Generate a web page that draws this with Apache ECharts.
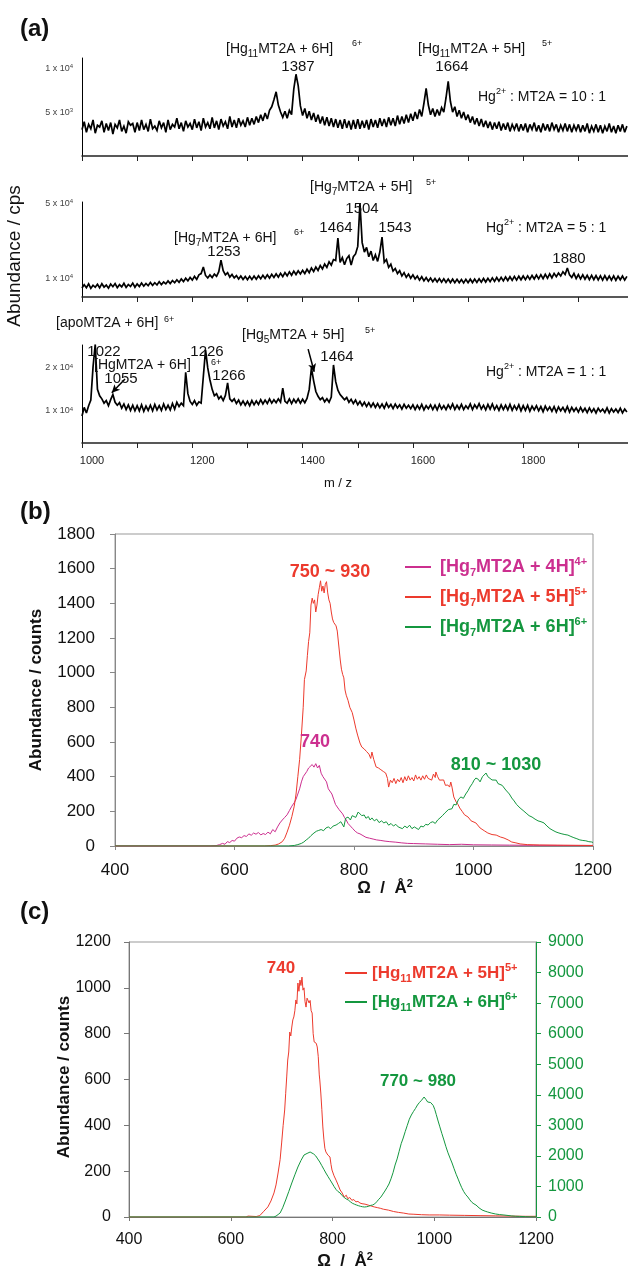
<!DOCTYPE html>
<html><head><meta charset="utf-8">
<script src="https://cdn.jsdelivr.net/npm/echarts@6/dist/echarts.min.js"></script>
<style>html,body{margin:0;padding:0;background:#fff}#c{width:628px;height:1270px}</style>
</head><body><div id="c"></div>
<script>
// ---------- DATA ----------
// Panel (a): mass spectra sampled every 4 m/z from 1000; intensities in units of 100 cps
const mzStart = 1000, mzStep = 4;
const int10to1 = [
30,39,27,36,31,41,26,35,33,40,27,37,29,38,25,36,32,41,28,34,26,39,35,37,27,
38,29,41,30,36,28,42,31,34,29,40,32,38,27,41,30,36,33,43,31,38,28,40,33,37,
30,42,32,39,29,43,33,38,31,44,32,40,30,42,34,39,31,45,33,41,32,43,35,40,33,
44,35,43,36,45,38,47,40,49,42,52,56,64,73,58,50,44,51,43,52,47,76,93,80,57,
46,54,43,51,41,49,39,47,37,45,35,44,34,43,33,42,32,41,31,42,32,40,30,41,31,
42,31,40,32,41,30,42,33,41,32,43,34,42,33,44,35,43,34,46,36,45,37,47,38,48,
40,50,42,53,45,60,77,58,47,54,45,53,46,55,50,66,85,62,50,56,45,52,43,50,41,
47,38,45,36,43,34,42,33,40,32,39,30,38,31,39,29,37,30,38,28,36,30,37,28,36,
29,37,27,36,30,38,28,35,27,37,29,36,28,38,30,36,27,35,29,37,28,36,27,35,29,
36,27,35,28,37,26,34,28,36,27,35,26,34,28,37,27,34,26,35,28,36,27,34];
const int5to1 = [
48,66,50,70,46,63,52,68,49,71,53,64,47,69,55,72,50,66,54,73,51,67,56,74,52,
70,56,75,58,72,60,78,62,76,64,82,66,80,70,86,72,88,76,92,78,96,82,100,86,104,
90,110,94,118,125,160,115,102,118,104,122,110,135,197,140,118,130,106,120,102,114,96,112,94,110,
92,110,93,112,95,113,97,116,99,118,101,121,104,124,106,126,109,130,113,134,116,138,120,140,123,
142,125,148,130,155,136,160,142,168,150,176,158,188,170,200,195,315,185,210,172,205,220,170,215,230,
270,500,290,240,265,215,245,195,225,190,240,320,185,200,158,175,138,152,125,140,112,130,105,122,100,
118,96,112,90,108,86,104,84,101,82,99,80,98,79,97,78,96,77,95,76,94,76,93,75,94,
76,95,77,96,78,97,79,99,80,100,82,102,83,104,85,105,86,107,88,108,89,110,90,111,92,
112,93,113,94,115,96,117,97,119,98,121,100,124,102,126,108,128,112,135,120,155,118,104,126,98,
120,96,118,95,116,93,115,92,114,91,113,90,114,91,112,90,113,89,111,92,112,90,110];
const int1to1 = [
88,108,95,112,125,202,255,150,135,128,118,124,112,126,138,120,113,119,106,116,103,114,101,113,100,
112,100,114,99,111,101,113,100,115,102,112,101,116,103,113,102,117,104,120,110,118,112,190,140,122,
115,124,113,121,118,180,242,200,172,150,135,140,128,134,124,136,165,128,122,128,117,125,114,123,113,
122,112,124,114,123,115,126,116,125,117,128,118,126,119,128,120,153,122,118,128,117,127,119,128,118,
127,119,129,150,200,170,145,134,126,131,121,128,120,132,207,168,148,138,132,126,131,120,127,117,125,
114,122,112,120,110,119,109,118,108,117,107,116,106,118,108,115,105,116,107,114,104,115,106,113,105,
114,103,113,104,115,102,112,105,114,103,113,102,115,104,112,103,114,105,116,103,113,104,115,103,112,
105,116,103,114,106,117,104,113,102,115,104,116,103,112,101,114,103,113,102,115,101,112,103,114,100,
112,101,113,99,111,102,112,100,110,98,111,101,109,99,110,97,109,100,108,98,110,97,108,99,107,
97,108,98,106,96,107,97,105,95,106,98,104,96,107,95,105,97,104,96,106,95,104,97];
// arrows in the 1:1 spectrum [from, to] as [m/z, 100 cps]
const arrows1to1 = [[[1078,174],[1054,142]],[[1410,244],[1421,191]]];

// Panel (b): arrival-time distributions [Ω / Å², counts]
const hg7_4H = [[400,0],[560,0],[569,2],[575,8],[580,15],[584,10],[588,25],[592,20],[596,32],[600,28],[604,45],[608,52],[612,48],[616,60],[620,55],[624,70],[628,62],[632,75],[636,68],[640,78],[644,64],[648,72],[652,66],[656,80],[660,70],[664,95],[668,82],[672,110],[676,133],[680,150],[684,165],[688,180],[692,205],[696,230],[700,250],[703,270],[706,300],[709,330],[712,370],[715,400],[718,410],[721,430],[724,450],[727,440],[730,470],[733,455],[736,475],[739,450],[742,465],[745,420],[748,400],[751,390],[754,370],[757,330],[760,325],[763,300],[766,270],[769,240],[772,225],[775,210],[778,200],[781,185],[784,165],[787,150],[790,130],[794,115],[798,100],[802,85],[806,75],[810,70],[815,60],[820,50],[826,45],[832,40],[838,35],[845,32],[852,28],[860,25],[870,22],[880,18],[890,15],[900,14],[920,12],[940,10],[960,8],[980,10],[1000,7],[1030,6],[1060,5],[1100,4],[1150,3],[1200,3]];
const hg7_5H = [[400,0],[650,0],[660,2],[668,5],[674,12],[680,25],[684,45],[688,80],[692,120],[696,170],[700,230],[703,300],[706,400],[709,500],[712,640],[715,800],[717,960],[720,1010],[722,1100],[724,1180],[726,1230],[728,1390],[730,1430],[732,1400],[734,1420],[736,1350],[738,1390],[740,1450],[742,1490],[744,1530],[746,1470],[748,1500],[750,1460],[752,1510],[754,1525],[756,1460],[758,1420],[760,1400],[762,1350],[764,1310],[766,1290],[768,1300],[770,1270],[772,1240],[774,1235],[775,1245],[777,1073],[779,1020],[781,990],[783,970],[785,900],[787,870],[790,840],[793,800],[797,770],[800,727],[803,680],[806,640],[810,594],[813,571],[817,560],[821,545],[825,530],[828,505],[830,542],[833,500],[837,456],[841,450],[845,440],[849,430],[853,421],[856,390],[858,340],[861,380],[864,365],[867,390],[870,360],[873,385],[876,370],[879,395],[882,365],[885,400],[888,375],[891,405],[894,380],[897,395],[900,375],[903,410],[906,385],[909,400],[912,380],[915,405],[918,385],[921,410],[924,390],[927,400],[930,380],[933,415],[936,395],[937,427],[940,400],[943,380],[946,390],[950,381],[953,350],[957,352],[960,340],[962,369],[964,340],[967,283],[971,254],[974,240],[977,219],[981,200],[985,180],[991,167],[996,145],[1004,133],[1011,104],[1018,88],[1024,75],[1031,66],[1038,63],[1045,52],[1051,46],[1058,35],[1064,23],[1071,18],[1078,12],[1090,8],[1110,6],[1140,5],[1170,4],[1200,3]];
const hg7_6H = [[400,0],[690,0],[700,3],[706,8],[712,15],[716,23],[720,35],[724,45],[728,60],[733,75],[737,85],[741,90],[745,95],[749,88],[753,104],[757,110],[761,100],[765,115],[770,121],[774,130],[778,140],[780,150],[783,110],[786,160],[790,167],[794,150],[797,175],[800,179],[803,165],[807,196],[810,185],[813,175],[817,179],[820,160],[824,170],[827,150],[830,162],[834,145],[838,155],[842,135],[846,145],[850,133],[854,140],[858,120],[862,130],[866,115],[870,125],[874,110],[877,118],[881,100],[885,115],[889,105],[893,120],[897,100],[901,110],[904,104],[908,95],[912,115],[916,110],[920,125],[924,121],[928,135],[932,140],[936,130],[940,150],[944,162],[948,175],[952,190],[955,200],[958,210],[961,220],[964,215],[967,240],[971,237],[975,270],[979,283],[983,275],[987,300],[991,320],[994,340],[998,360],[1001,380],[1004,392],[1008,385],[1011,370],[1015,400],[1018,395],[1021,421],[1024,400],[1027,390],[1031,381],[1034,370],[1038,380],[1041,360],[1044,369],[1048,350],[1051,340],[1054,323],[1057,330],[1060,300],[1064,277],[1068,260],[1072,240],[1078,219],[1083,205],[1088,190],[1093,175],[1098,167],[1103,155],[1108,145],[1113,140],[1118,133],[1123,115],[1128,100],[1133,90],[1138,81],[1143,75],[1148,70],[1153,66],[1158,63],[1163,55],[1168,48],[1173,42],[1178,35],[1183,32],[1188,30],[1193,25],[1198,23],[1200,20]];

// Panel (c)
const hg11_5H = [[400,0],[540,0],[543,8],[546,0],[630,0],[634,4],[637,0],[650,2],[657,6],[665,25],[673,44],[679,70],[685,105],[689,140],[693,192],[697,250],[700,323],[703,400],[706,467],[708,540],[710,611],[712,685],[714,720],[716,807],[718,790],[720,829],[722,860],[724,873],[726,900],[728,947],[730,930],[732,1021],[734,985],[736,1034],[738,1010],[740,1047],[742,990],[744,1000],[746,940],[748,916],[750,955],[752,960],[754,934],[756,945],[758,900],[760,890],[762,800],[764,764],[766,765],[768,758],[770,742],[772,700],[774,620],[775,598],[777,541],[779,470],[781,393],[783,340],[785,300],[787,284],[789,290],[791,270],[795,262],[797,230],[799,205],[803,180],[807,161],[811,140],[815,118],[819,105],[823,87],[827,95],[830,80],[834,85],[838,73],[842,76],[846,66],[850,68],[854,61],[858,58],[864,56],[870,52],[876,48],[882,44],[888,41],[894,38],[900,34],[910,30],[920,24],[930,20],[940,17],[950,13],[960,12],[975,10],[990,9],[1010,9],[1030,8],[1060,7],[1090,6],[1120,5],[1150,4],[1180,3],[1200,3]];
const hg11_6H = [[400,0],[685,0],[689,30],[693,80],[697,131],[702,300],[708,556],[714,830],[720,1113],[726,1380],[732,1636],[738,1850],[744,2029],[750,2080],[753,2100],[756,2127],[759,2100],[763,2062],[767,2000],[771,1900],[775,1800],[779,1680],[783,1560],[787,1440],[791,1330],[795,1220],[799,1113],[803,1000],[807,900],[811,830],[815,785],[819,700],[823,640],[827,590],[831,556],[835,500],[839,450],[843,420],[847,393],[851,370],[855,350],[859,335],[863,327],[867,335],[871,350],[875,380],[879,393],[883,430],[887,500],[891,580],[895,650],[899,750],[903,850],[907,960],[911,1080],[915,1250],[919,1450],[923,1700],[927,1900],[931,2150],[935,2400],[939,2585],[943,2800],[947,3000],[951,3200],[955,3338],[959,3450],[963,3550],[967,3665],[971,3750],[975,3820],[978,3870],[980,3927],[982,3880],[984,3840],[987,3764],[990,3780],[993,3745],[995,3730],[998,3650],[1001,3520],[1004,3350],[1007,3175],[1011,2950],[1015,2730],[1019,2520],[1023,2300],[1027,2100],[1031,1930],[1035,1767],[1039,1580],[1043,1400],[1047,1240],[1050,1113],[1054,960],[1058,830],[1062,730],[1066,655],[1070,560],[1074,480],[1078,430],[1082,393],[1088,300],[1094,230],[1100,190],[1105,164],[1112,130],[1120,100],[1128,80],[1137,65],[1145,50],[1152,35],[1160,25],[1168,20],[1180,10],[1190,5],[1200,2]];

// tick labels of panel (a) y axes (value in 100 cps -> label)
const yLabTop = {50: '5 x 10{s|3}', 100: '1 x 10{s|4}'};
const yLabMid = {100: '1 x 10{s|4}', 500: '5 x 10{s|4}'};
const yLabBot = {100: '1 x 10{s|4}', 200: '2 x 10{s|4}'};

// ---------- STYLE ----------
const FONT = '"Liberation Sans", Arial, Helvetica, sans-serif';
const MAG = '#cc2f8f', RED = '#ec3a2d', GRN = '#14973f';
const chart = echarts.init(document.getElementById('c'), null, {renderer: 'canvas'});
const toPairs = arr => arr.map((v, i) => [mzStart + i * mzStep, v]);

const subRich = {
  sb: {fontSize: 10, lineHeight: 12, verticalAlign: 'bottom'},
  sp: {fontSize: 9, lineHeight: 10, verticalAlign: 'top'}
};
function T(x, y, text, size, o) {
  o = o || {};
  const al = o.align || 'left';
  return {type: 'text', x: x, y: y, rotation: o.rot || 0, silent: true, z: 50,
    style: {x: 0, y: 0, text: text, fontSize: size, fontFamily: FONT,
      fontWeight: o.bold ? 'bold' : 'normal', fill: o.color || '#111',
      align: al, textAlign: al, verticalAlign: 'middle', textVerticalAlign: 'middle',
      lineHeight: o.lh || 20, rich: o.rich || subRich}};
}

function aY(gi, min, max, interval, labs) {
  return {gridIndex: gi, type: 'value', min: min, max: max, interval: interval,
    axisLine: {show: true, lineStyle: {color: '#000', width: 1}}, axisTick: {show: false}, splitLine: {show: false},
    axisLabel: {fontSize: 9, color: '#444', fontFamily: FONT, margin: 9, formatter: v => labs[v] || '',
      rich: {s: {fontSize: 6, lineHeight: 8, verticalAlign: 'top', color: '#444'}}}};
}
function aX(gi, labels) {
  return {gridIndex: gi, type: 'value', min: 1000, max: 1990, interval: 100,
    axisLine: {show: true, onZero: false, lineStyle: {color: '#222', width: 1.5}},
    axisTick: {show: true, inside: false, length: 5, lineStyle: {color: '#222'}},
    splitLine: {show: false},
    axisLabel: {show: labels, fontSize: 11, color: '#222', fontFamily: FONT, margin: 12, padding: [0, 0, 0, 20],
      formatter: v => (v % 200 === 0 && v <= 1800) ? String(v) : ''}};
}
const tickLab = (sz, col, m) => ({fontSize: sz, color: col, fontFamily: FONT, margin: m, formatter: v => String(v)});

const leg = (k, c, sz) => ({
  [k]: {color: c, fontSize: sz, fontWeight: 'bold', fontFamily: FONT, lineHeight: 22},
  [k + 's']: {color: c, fontSize: 11, fontWeight: 'bold', fontFamily: FONT, lineHeight: 12, verticalAlign: 'bottom'},
  [k + 'p']: {color: c, fontSize: 11, fontWeight: 'bold', fontFamily: FONT, lineHeight: 12, verticalAlign: 'top'}
});
const LEGB = {
  'Hg7 4H': '{m|[Hg}{ms|7}{m|MT2A + 4H]}{mp|4+}',
  'Hg7 5H': '{r|[Hg}{rs|7}{r|MT2A + 5H]}{rp|5+}',
  'Hg7 6H': '{g|[Hg}{gs|7}{g|MT2A + 6H]}{gp|6+}',
  'Hg11 5H': '{r|[Hg}{rs|11}{r|MT2A + 5H]}{rp|5+}',
  'Hg11 6H': '{g|[Hg}{gs|11}{g|MT2A + 6H]}{gp|6+}'
};

const lineS = (name, data, xi, yi, color, extra) => Object.assign({
  name: name, type: 'line', data: data, xAxisIndex: xi, yAxisIndex: yi, showSymbol: false, symbol: 'none',
  color: color, lineStyle: {color: color, width: 1}, animation: false, silent: true, clip: true, sampling: null
}, extra || {});
const specStyle = {lineStyle: {color: '#000', width: 1.7, join: 'miter', miterLimit: 3}};

const option = {
  animation: false,
  backgroundColor: '#fff',
  grid: [
    {left: 82, width: 546, top: 58, height: 98, containLabel: false, outerBoundsMode: 'none'},
    {left: 82, width: 546, top: 202, height: 95, containLabel: false, outerBoundsMode: 'none'},
    {left: 82, width: 546, top: 345, height: 98, containLabel: false, outerBoundsMode: 'none'},
    {left: 115, width: 478, top: 534, height: 312, containLabel: false, outerBoundsMode: 'none', show: true, borderColor: '#999', borderWidth: 1},
    {left: 129, width: 407, top: 942, height: 275, containLabel: false, outerBoundsMode: 'none', show: true, borderColor: '#999', borderWidth: 1}
  ],
  xAxis: [
    aX(0, false), aX(1, false), aX(2, true),
    {gridIndex: 3, type: 'value', min: 400, max: 1200, interval: 200, splitLine: {show: false},
      axisLine: {onZero: false, lineStyle: {color: '#888'}}, axisTick: {length: 4, lineStyle: {color: '#888'}},
      axisLabel: tickLab(17, '#111', 16)},
    {gridIndex: 4, type: 'value', min: 400, max: 1200, interval: 200, splitLine: {show: false},
      axisLine: {onZero: false, lineStyle: {color: '#777'}}, axisTick: {length: 4, lineStyle: {color: '#777'}},
      axisLabel: tickLab(16, '#111', 15)}
  ],
  yAxis: [
    aY(0, 0, 111.5, 50, yLabTop), aY(1, 0, 507, 100, yLabMid), aY(2, 25, 253.5, 25, yLabBot),
    {gridIndex: 3, type: 'value', min: 0, max: 1800, interval: 200, splitLine: {show: false},
      axisLine: {show: true, lineStyle: {color: '#888'}}, axisTick: {show: true, length: 5, lineStyle: {color: '#888'}},
      axisLabel: tickLab(17, '#111', 20)},
    {gridIndex: 4, type: 'value', min: 0, max: 1200, interval: 200, splitLine: {show: false}, position: 'left',
      axisLine: {show: true, lineStyle: {color: '#777'}}, axisTick: {show: true, length: 5, lineStyle: {color: '#777'}},
      axisLabel: tickLab(16, '#111', 18)},
    {gridIndex: 4, type: 'value', min: 0, max: 9000, interval: 1000, splitLine: {show: false}, position: 'right',
      axisLine: {show: true, lineStyle: {color: GRN}}, axisTick: {show: true, length: 5, lineStyle: {color: GRN}},
      axisLabel: tickLab(16, GRN, 12)}
  ],
  legend: [
    {data: ['Hg7 4H', 'Hg7 5H', 'Hg7 6H'], orient: 'vertical', left: 400, top: 551, itemWidth: 26, itemHeight: 2, itemGap: 8,
      icon: 'rect', selectedMode: false, formatter: n => LEGB[n],
      textStyle: {fontSize: 18, fontWeight: 'bold', fontFamily: FONT, padding: [0, 0, 0, 4],
        rich: Object.assign({}, leg('m', MAG, 18), leg('r', RED, 18), leg('g', GRN, 18))}},
    {data: ['Hg11 5H', 'Hg11 6H'], orient: 'vertical', left: 340, top: 957, itemWidth: 22, itemHeight: 2, itemGap: 7,
      icon: 'rect', selectedMode: false, formatter: n => LEGB[n],
      textStyle: {fontSize: 17, fontWeight: 'bold', fontFamily: FONT,
        rich: Object.assign({}, leg('r', RED, 17), leg('g', GRN, 17))}}
  ],
  series: [
    lineS('10:1', toPairs(int10to1), 0, 0, '#000', specStyle),
    lineS('5:1', toPairs(int5to1), 1, 1, '#000', specStyle),
    lineS('1:1', toPairs(int1to1), 2, 2, '#000', Object.assign({}, specStyle, {
      markLine: {silent: true, symbol: ['none', 'arrow'], symbolSize: [6, 8], animation: false,
        lineStyle: {color: '#000', width: 1.5, type: 'solid'}, label: {show: false},
        data: arrows1to1.map(a => [{coord: a[0]}, {coord: a[1]}])}})),
    lineS('Hg7 4H', hg7_4H, 3, 3, MAG),
    lineS('Hg7 5H', hg7_5H, 3, 3, RED),
    lineS('Hg7 6H', hg7_6H, 3, 3, GRN),
    lineS('Hg11 5H', hg11_5H, 4, 4, RED),
    lineS('Hg11 6H', hg11_6H, 4, 5, GRN)
  ],
  graphic: [
    T(20, 29, '(a)', 24, {bold: true}),
    T(20, 512, '(b)', 24, {bold: true}),
    T(20, 912, '(c)', 24, {bold: true}),
    // panel (a) annotations
    T(226, 49, '[Hg{sb|11}MT2A + 6H]', 14), T(352, 44, '6+', 9),
    T(298, 67, '1387', 15, {align: 'center'}),
    T(418, 49, '[Hg{sb|11}MT2A + 5H]', 14), T(542, 44, '5+', 9),
    T(452, 67, '1664', 15, {align: 'center'}),
    T(478, 97, 'Hg{sp|2+} : MT2A = 10 : 1', 14),
    T(310, 187, '[Hg{sb|7}MT2A + 5H]', 14), T(426, 183, '5+', 9),
    T(362, 209, '1504', 15, {align: 'center'}),
    T(336, 228, '1464', 15, {align: 'center'}),
    T(395, 228, '1543', 15, {align: 'center'}),
    T(174, 238, '[Hg{sb|7}MT2A + 6H]', 14), T(294, 233, '6+', 9),
    T(224, 252, '1253', 15, {align: 'center'}),
    T(486, 228, 'Hg{sp|2+} : MT2A = 5 : 1', 14),
    T(569, 259, '1880', 15, {align: 'center'}),
    T(56, 323, '[apoMT2A + 6H]', 14), T(164, 320, '6+', 9),
    T(104, 352, '1022', 15, {align: 'center'}),
    T(94, 365, '[HgMT2A + 6H]', 14),
    T(121, 379, '1055', 15, {align: 'center'}),
    T(207, 352, '1226', 15, {align: 'center'}),
    T(211, 363, '6+', 9),
    T(229, 376, '1266', 15, {align: 'center'}),
    T(242, 335, '[Hg{sb|5}MT2A + 5H]', 14), T(365, 331, '5+', 9),
    T(337, 357, '1464', 15, {align: 'center'}),
    T(486, 372, 'Hg{sp|2+} : MT2A = 1 : 1', 14),
    T(338, 483, 'm / z', 13, {align: 'center'}),
    T(15, 256, 'Abundance / cps', 19, {align: 'center', rot: Math.PI / 2}),
    // panel (b)
    T(330, 572, '750 ~ 930', 18, {bold: true, color: RED, align: 'center'}),
    T(315, 742, '740', 18, {bold: true, color: MAG, align: 'center'}),
    T(496, 765, '810 ~ 1030', 18, {bold: true, color: GRN, align: 'center'}),
    T(36, 690, 'Abundance / counts', 17, {bold: true, align: 'center', rot: Math.PI / 2}),
    T(385, 888, 'Ω  /  Å{sp|2}', 17, {bold: true, align: 'center', rich: {sp: {fontSize: 11, fontWeight: 'bold', lineHeight: 10, verticalAlign: 'top'}}}),
    // panel (c)
    T(281, 968, '740', 17, {bold: true, color: RED, align: 'center'}),
    T(418, 1081, '770 ~ 980', 17, {bold: true, color: GRN, align: 'center'}),
    T(64, 1077, 'Abundance / counts', 17, {bold: true, align: 'center', rot: Math.PI / 2}),
    T(345, 1261, 'Ω  /  Å{sp|2}', 17, {bold: true, align: 'center', rich: {sp: {fontSize: 11, fontWeight: 'bold', lineHeight: 10, verticalAlign: 'top'}}})
  ]
};
chart.setOption(option);
</script>
</body></html>
